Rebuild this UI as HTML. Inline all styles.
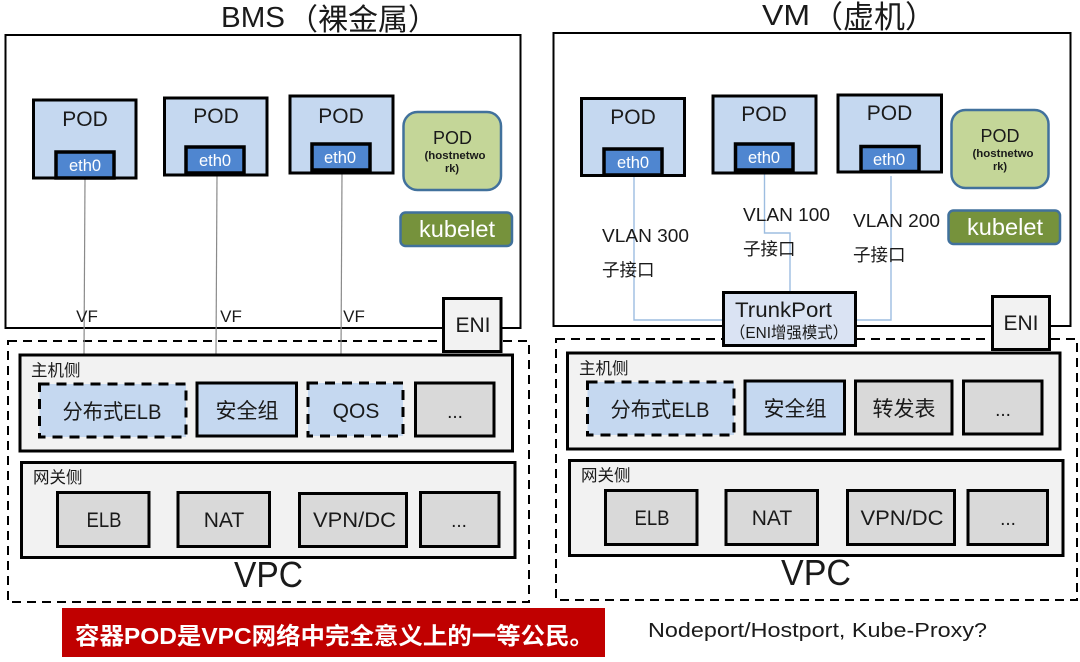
<!DOCTYPE html>
<html><head><meta charset="utf-8">
<style>
html,body{margin:0;padding:0;background:#fff;width:1080px;height:662px;overflow:hidden}
svg{display:block;filter:blur(.35px)}
text{font-family:"Liberation Sans","Noto Sans CJK SC",sans-serif;fill:#1a1a1a}
.b{stroke:#000;stroke-width:3;fill:#c5d8f0}
.g{stroke:#000;stroke-width:3;fill:#d9d9d9}
.p{stroke:#000;stroke-width:3;fill:#f2f2f2}
.f{fill:#f2f2f2;stroke:#000;stroke-width:3}
.d{fill:#c5d8f0;stroke:#000;stroke-width:3;stroke-dasharray:10 7}
.e{fill:#4f86d0;stroke:#000;stroke-width:3.5}
.o{fill:none;stroke:#000;stroke-width:2}
.v{fill:none;stroke:#000;stroke-width:2;stroke-dasharray:9 6}
.l{fill:none;stroke:#8a8a8a;stroke-width:1.2}
.s{fill:none;stroke:#9dbde0;stroke-width:1.4}
.m{text-anchor:middle}
</style></head><body>
<svg width="1080" height="662" viewBox="0 0 1080 662" xmlns="http://www.w3.org/2000/svg">
<!-- titles -->
<text x="221" y="27" font-size="28.500" textLength="64" lengthAdjust="spacingAndGlyphs">BMS</text>
<text x="288" y="30" font-size="30">（裸金属）</text>
<text x="762" y="25" font-size="28.500" textLength="48" lengthAdjust="spacingAndGlyphs">VM</text>
<text x="812" y="28" font-size="31">（虚机）</text>

<!-- outer -->
<rect class="o" x="5.500" y="35" width="515" height="293"/>
<rect class="o" x="553.500" y="33" width="517" height="293"/>
<rect class="v" x="8" y="341" width="521" height="261"/>
<rect class="v" x="556" y="339" width="521" height="261"/>

<!-- BMS connectors -->
<line class="l" x1="85" y1="178" x2="84" y2="354"/>
<line class="l" x1="217" y1="175" x2="216" y2="354"/>
<line class="l" x1="342" y1="173" x2="341" y2="354"/>

<!-- BMS pods -->
<rect class="b" x="33.500" y="100" width="102.500" height="78"/>
<text class="m" x="85" y="126" font-size="21">POD</text>
<rect class="e" x="56" y="152" width="58" height="26"/>
<text class="m" x="85" y="171" font-size="16.500" style="fill:#fff">eth0</text>
<rect class="b" x="164.500" y="98" width="102.500" height="77"/>
<text class="m" x="216" y="123" font-size="21">POD</text>
<rect class="e" x="186" y="147" width="58" height="26"/>
<text class="m" x="215" y="166" font-size="16.500" style="fill:#fff">eth0</text>
<rect class="b" x="290" y="96" width="103" height="77"/>
<text class="m" x="341" y="123" font-size="21">POD</text>
<rect class="e" x="312" y="144" width="58" height="26"/>
<text class="m" x="340" y="163" font-size="16.500" style="fill:#fff">eth0</text>
<rect x="403.500" y="112" width="97.500" height="78" rx="14" fill="#c4d698" stroke="#41719c" stroke-width="2.500"/>
<text class="m" x="452.500" y="144" font-size="18">POD</text>
<text class="m" x="455" y="159" font-size="11" font-weight="bold" textLength="61" lengthAdjust="spacingAndGlyphs">(hostnetwo</text>
<text class="m" x="452" y="172" font-size="11" font-weight="bold">rk)</text>
<rect x="400.500" y="212.500" width="111.500" height="33.500" rx="5" fill="#76923c" stroke="#41719c" stroke-width="2.500"/>
<text class="m" x="457" y="237" font-size="23" textLength="76" lengthAdjust="spacingAndGlyphs" style="fill:#fff">kubelet</text>
<text class="m" x="87" y="322" font-size="17">VF</text>
<text class="m" x="231" y="322" font-size="17">VF</text>
<text class="m" x="354" y="322" font-size="17">VF</text>
<rect class="f" x="443.500" y="298.500" width="57.500" height="53"/>
<text class="m" x="473" y="332" font-size="21">ENI</text>

<!-- BMS host -->
<rect class="p" x="20" y="355" width="492.500" height="96"/>
<text x="31" y="376" font-size="16.500">主机侧</text>
<rect class="d" x="39.500" y="384" width="146.500" height="53"/>
<text class="m" x="112" y="419" font-size="21" textLength="99" lengthAdjust="spacingAndGlyphs">分布式ELB</text>
<rect class="b" x="197" y="383" width="99.500" height="53"/>
<text class="m" x="247" y="418" font-size="21">安全组</text>
<rect class="d" x="308" y="383" width="95" height="53"/>
<text class="m" x="356" y="418" font-size="21">QOS</text>
<rect class="g" x="415.500" y="383" width="78.500" height="53"/>
<text class="m" x="455" y="418" font-size="19">...</text>
<!-- BMS gateway -->
<rect class="p" x="21.500" y="462.500" width="493.500" height="95"/>
<text x="33" y="483" font-size="16.500">网关侧</text>
<rect class="g" x="57.500" y="492.500" width="91.500" height="54"/>
<text class="m" x="104" y="527" font-size="21" textLength="35" lengthAdjust="spacingAndGlyphs">ELB</text>
<rect class="g" x="178" y="492.500" width="91.500" height="54"/>
<text class="m" x="224" y="527" font-size="21">NAT</text>
<rect class="g" x="299.500" y="493.500" width="107" height="53"/>
<text class="m" x="354.500" y="527" font-size="21" textLength="83" lengthAdjust="spacingAndGlyphs">VPN/DC</text>
<rect class="g" x="420.500" y="492.500" width="78.500" height="54"/>
<text class="m" x="459" y="527" font-size="19">...</text>
<text class="m" x="268.500" y="587" font-size="36" textLength="69" lengthAdjust="spacingAndGlyphs">VPC</text>

<!-- VM connectors -->
<polyline class="s" points="634,176 634,320 724,320"/>
<polyline class="s" points="764.500,173 764.500,233 790,233 790,292"/>
<polyline class="s" points="891,176 891,320 856,320"/>

<!-- VM pods -->
<rect class="b" x="581.500" y="98.500" width="103" height="77"/>
<text class="m" x="633" y="124" font-size="21">POD</text>
<rect class="e" x="604" y="149" width="58" height="26"/>
<text class="m" x="633" y="168" font-size="16.500" style="fill:#fff">eth0</text>
<rect class="b" x="713" y="96" width="103" height="77"/>
<text class="m" x="764" y="121" font-size="21">POD</text>
<rect class="e" x="735.500" y="144" width="57.500" height="26"/>
<text class="m" x="764" y="163" font-size="16.500" style="fill:#fff">eth0</text>
<rect class="b" x="838" y="95" width="103.500" height="77"/>
<text class="m" x="889.500" y="120" font-size="21">POD</text>
<rect class="e" x="861" y="146.500" width="58" height="25"/>
<text class="m" x="889" y="165" font-size="16.500" style="fill:#fff">eth0</text>
<rect x="951.500" y="110" width="97" height="78" rx="14" fill="#c4d698" stroke="#41719c" stroke-width="2.500"/>
<text class="m" x="1000" y="142" font-size="18">POD</text>
<text class="m" x="1003" y="157" font-size="11" font-weight="bold" textLength="61" lengthAdjust="spacingAndGlyphs">(hostnetwo</text>
<text class="m" x="1000" y="170" font-size="11" font-weight="bold">rk)</text>
<rect x="948.500" y="210.500" width="111.500" height="33.500" rx="5" fill="#76923c" stroke="#41719c" stroke-width="2.500"/>
<text class="m" x="1005" y="235" font-size="23" textLength="76" lengthAdjust="spacingAndGlyphs" style="fill:#fff">kubelet</text>

<text x="602" y="242" font-size="18" textLength="87" lengthAdjust="spacingAndGlyphs">VLAN 300</text>
<text x="602" y="276" font-size="17.500">子接口</text>
<text x="743" y="221" font-size="18" textLength="87" lengthAdjust="spacingAndGlyphs">VLAN 100</text>
<text x="743" y="255" font-size="17.500">子接口</text>
<text x="853" y="227" font-size="18" textLength="87" lengthAdjust="spacingAndGlyphs">VLAN 200</text>
<text x="853" y="261" font-size="17.500">子接口</text>

<rect x="723.500" y="292.500" width="132" height="53" fill="#dae3f3" stroke="#000" stroke-width="3"/>
<text x="735" y="317" font-size="21" textLength="97" lengthAdjust="spacingAndGlyphs">TrunkPort</text>
<text x="730" y="338" font-size="16" textLength="118" lengthAdjust="spacingAndGlyphs">（ENI增强模式）</text>
<rect class="f" x="992.500" y="296.500" width="57" height="53"/>
<text class="m" x="1021" y="330" font-size="21">ENI</text>

<!-- VM host -->
<rect class="p" x="567.500" y="353" width="492.500" height="96"/>
<text x="579" y="374" font-size="16.500">主机侧</text>
<rect class="d" x="587.500" y="382" width="146.500" height="53"/>
<text class="m" x="660" y="417" font-size="21" textLength="99" lengthAdjust="spacingAndGlyphs">分布式ELB</text>
<rect class="b" x="745" y="381" width="99.500" height="53"/>
<text class="m" x="795" y="416" font-size="21">安全组</text>
<rect class="g" x="855.500" y="381" width="96.500" height="53"/>
<text class="m" x="904" y="416" font-size="21">转发表</text>
<rect class="g" x="963.500" y="381" width="78.500" height="53"/>
<text class="m" x="1003" y="416" font-size="19">...</text>
<!-- VM gateway -->
<rect class="p" x="569.500" y="460.500" width="493.500" height="95"/>
<text x="581" y="481" font-size="16.500">网关侧</text>
<rect class="g" x="605.500" y="490.500" width="91.500" height="54"/>
<text class="m" x="652" y="525" font-size="21" textLength="35" lengthAdjust="spacingAndGlyphs">ELB</text>
<rect class="g" x="726" y="490.500" width="91.500" height="54"/>
<text class="m" x="772" y="525" font-size="21">NAT</text>
<rect class="g" x="847.500" y="490.500" width="107" height="54"/>
<text class="m" x="902" y="525" font-size="21" textLength="83" lengthAdjust="spacingAndGlyphs">VPN/DC</text>
<rect class="g" x="968" y="490.500" width="79.500" height="54"/>
<text class="m" x="1008" y="525" font-size="19">...</text>
<text class="m" x="816" y="585" font-size="36" textLength="70" lengthAdjust="spacingAndGlyphs">VPC</text>

<!-- bottom -->
<rect x="62" y="608" width="543" height="49" fill="#c00000"/>
<text x="75" y="644" font-size="23.500" font-weight="bold" style="fill:#fff" textLength="519" lengthAdjust="spacingAndGlyphs">容器POD是VPC网络中完全意义上的一等公民。</text>
<text x="648" y="637" font-size="20.500" textLength="339" lengthAdjust="spacingAndGlyphs">Nodeport/Hostport, Kube-Proxy?</text>
</svg>
</body></html>
